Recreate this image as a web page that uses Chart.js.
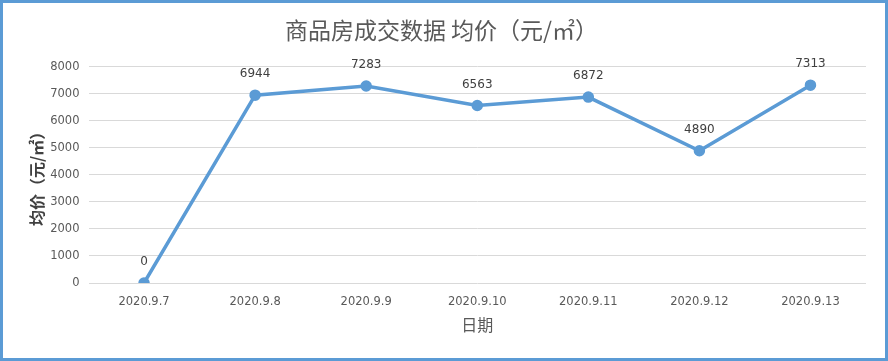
<!DOCTYPE html>
<html>
<head>
<meta charset="utf-8">
<script src="https://cdn.jsdelivr.net/npm/chart.js@4/dist/chart.umd.min.js"></script>
<style>
html,body{margin:0;padding:0;background:#fff;}
#wrap{width:888px;height:361px;box-sizing:border-box;border:3px solid #5b9bd5;background:#fff;}
#wrap canvas{display:block;}
</style>
</head>
<body>
<div id="wrap"><canvas id="c" width="882" height="355"></canvas></div>
<script>
const categories = ['2020.9.7','2020.9.8','2020.9.9','2020.9.10','2020.9.11','2020.9.12','2020.9.13'];
const avgPrice = [0, 6944, 7283, 6563, 6872, 4890, 7313];
const yTicks = [0,1000,2000,3000,4000,5000,6000,7000,8000];
const chartTitle = '商品房成交数据 均价（元/㎡）';
const yTitle = '均价（元/㎡）';
const xTitle = '日期';

const CJK = '"Noto Sans CJK SC", "Noto Sans", sans-serif';
const LAT = '"DejaVu Sans", "Noto Sans", sans-serif';

const labelPlugin = {
  id: 'pointLabels',
  afterDatasetsDraw(chart) {
    const ctx = chart.ctx;
    const meta = chart.getDatasetMeta(0);
    ctx.save();
    ctx.font = '12px ' + LAT;
    ctx.fillStyle = '#404040';
    ctx.textAlign = 'center';
    ctx.textBaseline = 'middle';
    meta.data.forEach((pt, i) => {
      ctx.fillText(String(avgPrice[i]), pt.x, pt.y - 21);
    });
    ctx.restore();
  }
};

new Chart(document.getElementById('c'), {
  type: 'line',
  data: {
    labels: categories,
    datasets: [{
      data: avgPrice,
      borderColor: '#5b9bd5',
      backgroundColor: '#5b9bd5',
      borderWidth: 3.5,
      pointRadius: 4,
      pointHoverRadius: 4,
      pointBackgroundColor: '#5b9bd5',
      pointBorderColor: '#5b9bd5',
      tension: 0,
      fill: false
    }]
  },
  options: {
    responsive: false,
    animation: false,
    events: [],
    layout: { padding: { left: 14, right: 19, top: 0, bottom: 0 } },
    plugins: {
      legend: { display: false },
      tooltip: { enabled: false },
      title: {
        display: true,
        text: chartTitle,
        color: '#595959',
        font: { family: CJK, size: 23, weight: 'normal', lineHeight: 1.2 },
        padding: { top: 13, bottom: 23 }
      }
    },
    scales: {
      x: {
        type: 'category',
        offset: true,
        grid: { display: false, drawTicks: false },
        border: { display: false },
        ticks: {
          color: '#595959',
          font: { family: LAT, size: 11.5 },
          padding: 12,
          maxRotation: 0,
          autoSkip: false
        },
        title: {
          display: true,
          text: xTitle,
          color: '#595959',
          font: { family: CJK, size: 16, weight: 'normal', lineHeight: 1.2 },
          padding: { top: 0, bottom: 23 }
        },
        afterFit(scale) { scale.height = 75; }
      },
      y: {
        min: 0,
        max: 8000,
        afterBuildTicks(scale) { scale.ticks = yTicks.map(v => ({ value: v })); },
        grid: { color: '#d9d9d9', lineWidth: 1, drawTicks: false },
        border: { display: false },
        ticks: {
          color: '#595959',
          font: { family: LAT, size: 11.5 },
          padding: 9,
          callback: (v) => String(v)
        },
        title: {
          display: true,
          text: yTitle,
          color: '#404040',
          font: { family: CJK, size: 16, weight: 'bold', lineHeight: 1.2 },
          padding: { top: 10, bottom: 0 }
        },
        afterFit(scale) { scale.width = 71.5; }
      }
    }
  },
  plugins: [labelPlugin]
});
</script>
</body>
</html>
